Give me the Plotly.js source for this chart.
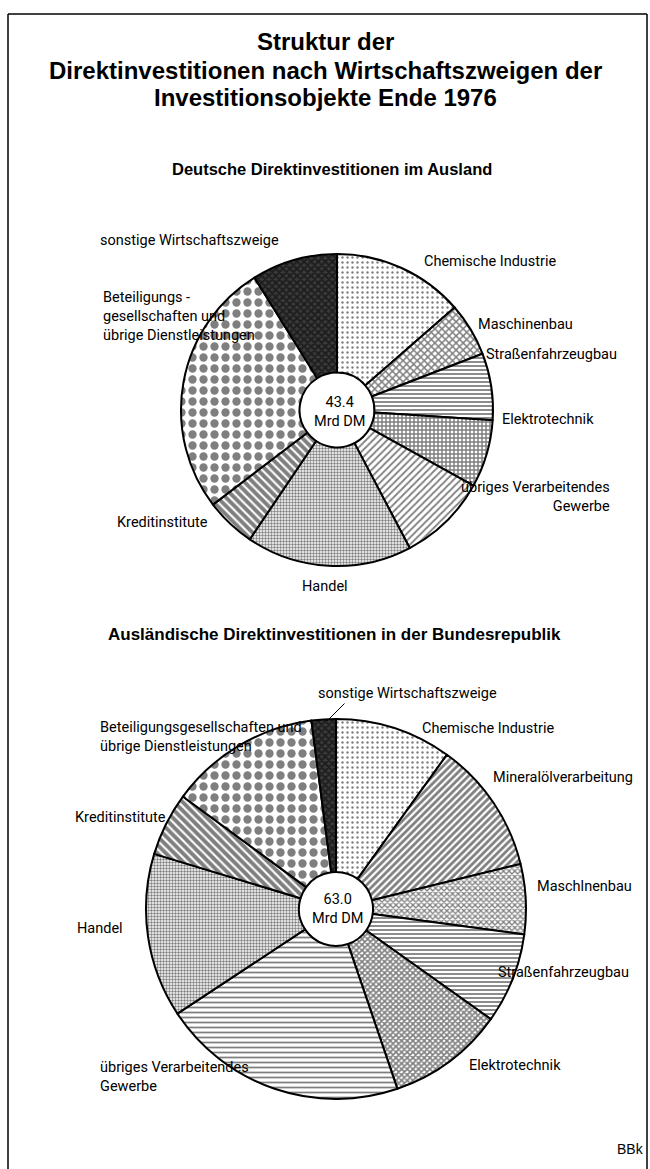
<!DOCTYPE html>
<html>
<head>
<meta charset="utf-8">
<script src="https://cdn.plot.ly/plotly-3.0.1.min.js"></script>
<style>html,body{margin:0;padding:0;background:#fff;}#chart{width:650px;height:1169px;}</style>
</head>
<body>
<div id="chart"></div>
<script>
// ---- Data (Mrd DM) ----
const titleLines = ["Struktur der", "Direktinvestitionen nach Wirtschaftszweigen der", "Investitionsobjekte Ende 1976"];
const subtitle1 = "Deutsche Direktinvestitionen im Ausland";
const subtitle2 = "Ausländische Direktinvestitionen in der Bundesrepublik";
const source = "BBk";

const labels1 = ["Chemische Industrie", "Maschinenbau", "Straßenfahrzeugbau", "Elektrotechnik",
  "übriges Verarbeitendes<br>Gewerbe", "Handel", "Kreditinstitute",
  "Beteiligungs -<br>gesellschaften und<br>übrige Dienstleistungen", "sonstige Wirtschaftszweige"];
const values1 = [5.9, 2.4, 3.0, 3.05, 4.0, 7.45, 2.25, 11.5, 3.85];
const total1 = "43.4<br>Mrd DM";

const labels2 = ["Chemische Industrie", "Mineralölverarbeitung", "Maschlnenbau", "Straßenfahrzeugbau",
  "Elektrotechnik", "übriges Verarbeitendes<br>Gewerbe", "Handel", "Kreditinstitute",
  "Beteiligungsgesellschaften und<br>übrige Dienstleistungen", "sonstige Wirtschaftszweige"];
const values2 = [6.25, 7.1, 3.75, 4.85, 6.25, 13.2, 8.8, 3.4, 8.1, 1.3];
const total2 = "63.0<br>Mrd DM";

// ---- Styles ----
const W = 650, H = 1169;
const px = x => x / W;
const py = y => 1 - y / H;
const labelFont = {family: "Roboto, Liberation Sans Narrow, DejaVu Sans Condensed, sans-serif", size: 14.5, color: "#000"};
const boldFont = "Liberation Sans, Arial, Helvetica, sans-serif";

const fill1 = ["#fff", "#fff", "#fff", "#fff", "#fff", "#fff", "#fff", "#fff", "#3a3a3a"];
const pat1 = {
  shape:    [".", "x", "-", "+", "/", ".", "\\", ".", "x"],
  size:     [5, 5, 4, 4, 5, 3, 6, 11, 5],
  solidity: [0.18, 0.5, 0.45, 0.6, 0.35, 0.5, 0.65, 0.45, 0.6],
  fgcolor: "#000", fillmode: "overlay"
};
const fill2 = ["#fff", "#fff", "#fff", "#fff", "#fff", "#fff", "#fff", "#fff", "#fff", "#3a3a3a"];
const pat2 = {
  shape:    [".", "/", "x", "-", "x", "-", ".", "\\", ".", "x"],
  size:     [5, 5, 4, 4, 4, 5, 3, 6, 11, 5],
  solidity: [0.18, 0.55, 0.55, 0.45, 0.65, 0.35, 0.5, 0.65, 0.45, 0.6],
  fgcolor: "#000", fillmode: "overlay"
};

// label positions (pixels), alignment
const pos1 = [
  [490, 261, "center"], [525, 324, "center"], [551, 354, "center"], [548, 419, "center"],
  [612, 497, "right"], [325, 586, "center"], [163, 522, "center"],
  [101, 317, "left"], [189, 240, "center"]
];
const pos2 = [
  [488, 728, "center"], [563, 777, "center"], [584, 886, "center"], [563, 972, "center"],
  [515, 1065, "center"], [98, 1077, "left"], [100, 928, "center"], [121, 817, "center"],
  [98, 737, "left"], [407, 693, "center"]
];
const titleY = [42, 70, 97];

const dom1 = {x: [px(181), px(493)], y: [py(566), py(254)]};
const dom2 = {x: [px(146), px(526)], y: [py(1099), py(719)]};

const traces = [
  {type: "pie", values: values1, labels: labels1, sort: false, direction: "clockwise", rotation: 0,
   hole: 0.24, domain: dom1, textinfo: "none", hoverinfo: "label+value",
   marker: {colors: fill1, line: {color: "#000", width: 2}, pattern: pat1},
   showlegend: false},
  {type: "pie", values: values2, labels: labels2, sort: false, direction: "clockwise", rotation: 0,
   hole: 0.195, domain: dom2, textinfo: "none", hoverinfo: "label+value",
   marker: {colors: fill2, line: {color: "#000", width: 2}, pattern: pat2},
   showlegend: false}
];

const ann = [];
titleLines.forEach((t, i) => {
  ann.push({text: "<b>" + t + "</b>", x: px(325), y: py(titleY[i]), xref: "paper", yref: "paper",
    xanchor: "center", yanchor: "middle", showarrow: false,
    font: {family: boldFont, size: 24, color: "#000"}});
});
ann.push({text: "<b>" + subtitle1 + "</b>", x: px(332), y: py(169), xref: "paper", yref: "paper",
  xanchor: "center", yanchor: "middle", showarrow: false,
  font: {family: boldFont, size: 16.5, color: "#000"}});
ann.push({text: "<b>" + subtitle2 + "</b>", x: px(335), y: py(634), xref: "paper", yref: "paper",
  xanchor: "center", yanchor: "middle", showarrow: false,
  font: {family: boldFont, size: 17, color: "#000"}});
ann.push({text: total1, x: px(339), y: py(412), xref: "paper", yref: "paper",
  xanchor: "center", yanchor: "middle", showarrow: false, font: labelFont});
ann.push({text: total2, x: px(337), y: py(909), xref: "paper", yref: "paper",
  xanchor: "center", yanchor: "middle", showarrow: false, font: labelFont});
ann.push({text: source, x: px(646), y: py(1149), xref: "paper", yref: "paper",
  xanchor: "right", yanchor: "middle", showarrow: false,
  font: {family: boldFont, size: 14, color: "#000"}});

labels1.forEach((l, i) => {
  const p = pos1[i];
  ann.push({text: l, x: px(p[0]), y: py(p[1]), xref: "paper", yref: "paper",
    xanchor: p[2], yanchor: "middle", align: p[2], showarrow: false, font: labelFont});
});
labels2.forEach((l, i) => {
  const p = pos2[i];
  ann.push({text: l, x: px(p[0]), y: py(p[1]), xref: "paper", yref: "paper",
    xanchor: p[2], yanchor: "middle", align: p[2], showarrow: false, font: labelFont});
});
// leader line for small slice
ann.push({text: "", x: px(327), y: py(721), ax: px(346), ay: py(702), xref: "paper", yref: "paper",
  axref: "paper", ayref: "paper", showarrow: true, arrowhead: 0, arrowwidth: 1, arrowcolor: "#000"});

const shapes = [
  {type: "line", xref: "paper", yref: "paper", x0: px(8), x1: px(8), y0: py(14), y1: 0, line: {color: "#000", width: 1.5}},
  {type: "line", xref: "paper", yref: "paper", x0: px(8), x1: px(647), y0: py(14), y1: py(14), line: {color: "#000", width: 1.5}},
  {type: "line", xref: "paper", yref: "paper", x0: px(647), x1: px(647), y0: py(14), y1: 0, line: {color: "#000", width: 1.5}}
];

const layout = {
  width: W, height: H, margin: {l: 0, r: 0, t: 0, b: 0},
  paper_bgcolor: "#fff", plot_bgcolor: "#fff",
  annotations: ann, shapes: shapes, showlegend: false
};
Plotly.newPlot("chart", traces, layout, {staticPlot: true});
</script>
</body>
</html>
